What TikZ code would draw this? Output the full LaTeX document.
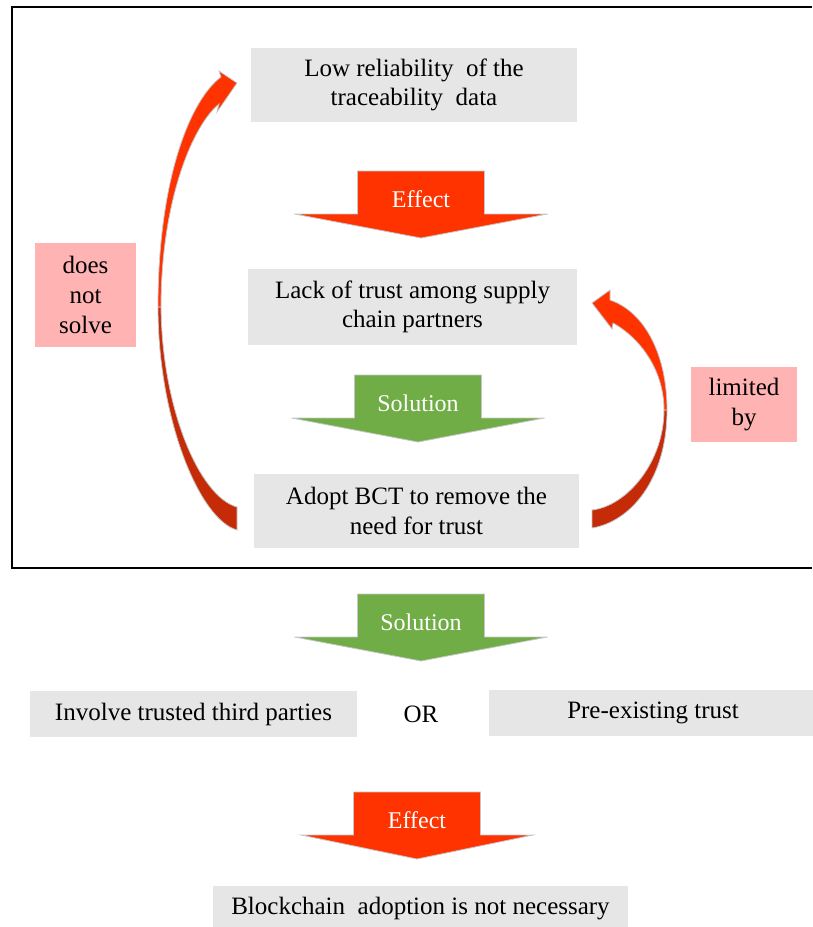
\documentclass[tikz,border=0pt]{standalone}
\usepackage{fontspec}
\setmainfont{Liberation Serif}
\newfontfamily\timesfont{Liberation Serif}

\definecolor{boxgray}{HTML}{E7E6E6}
\definecolor{notepink}{HTML}{FFB3B3}
\definecolor{effectred}{HTML}{FF3300}
\definecolor{solgreen}{HTML}{70AD47}
\definecolor{darkred}{HTML}{C62B08}

% block arrow: centre x, top y, half width of head, colour, text, name
\newcommand{\blockarrow}[6]{%
	\fill[#4, draw=gray!45, line width=0.8pt] (#1-63.5,#2) -- (#1+63.5,#2) -- (#1+63.5,#2+43) -- (#1+#3,#2+43) -- (#1,#2+67) -- (#1-#3,#2+43) -- (#1-63.5,#2+43) -- cycle;
	\node[arrowtext] (#6) at (#1,#2+28) {#5};
}

\begin{document}
\begin{tikzpicture}[x=1pt, y=-1pt,
	every node/.style={font=\timesfont\fontsize{25}{29.5}\selectfont},
	box/.style={fill=boxgray, align=center, inner sep=0pt},
	note/.style={fill=notepink, align=center, inner sep=0pt, font=\timesfont\fontsize{25}{30}\selectfont},
	arrowtext/.style={text=white, font=\timesfont\fontsize{24}{28}\selectfont},
	bendarrow/.style={draw=gray!45, line width=0.8pt}]
	\useasboundingbox (0,0) rectangle (812,927);
	\draw[line width=2.5pt] (812,7) -- (12,7) -- (12,568) -- (812,568);
	% loop inside the frame
	\node[box, minimum width=326pt, minimum height=74pt] (low) at (414,85) {Low reliability\ \ of the\\traceability\ \ data};
	\blockarrow{421}{171}{126.5}{effectred}{Effect}{eff1}
	\node[box, minimum width=329pt, minimum height=76pt] (lack) at (412.5,307) {Lack of trust among supply\\chain partners};
	\blockarrow{418}{375}{126.5}{solgreen}{Solution}{sol1}
	\node[box, minimum width=325pt, minimum height=74pt] (adopt) at (416.5,511) {Adopt BCT to remove the\\need for trust};
	% curved arrow adopt -> low
	\fill[darkred, bendarrow] (237,530) .. controls (200,520) and (158,420) .. (158,307) -- (161,307) .. controls (162,410) and (200,497) .. (237,507) -- cycle;
	\fill[effectred, bendarrow] (158,307) .. controls (158,180) and (190,100) .. (221,77) -- (219,71) -- (237,83) -- (217,112) -- (219,104) .. controls (193,125) and (161,200) .. (161,307) -- cycle;
	\node[note, minimum width=101pt, minimum height=104pt] (dns) at (85.5,295) {does\\not\\solve};
	% curved arrow adopt -> lack
	\fill[darkred, bendarrow] (592,528) .. controls (630,522) and (667,480) .. (667,410) -- (664,410) .. controls (664,462) and (627,506) .. (592,510) -- cycle;
	\fill[effectred, bendarrow] (667,410) .. controls (667,355) and (645,312) .. (610,300) -- (610,290) -- (592,303) -- (612,329) -- (613,323) .. controls (640,338) and (664,370) .. (664,410) -- cycle;
	\node[note, minimum width=106pt, minimum height=75pt] (lim) at (744,404.5) {limited\\by};
	% below the frame
	\blockarrow{421}{594}{126.5}{solgreen}{Solution}{sol2}
	\node[box, minimum width=327pt, minimum height=46pt] (third) at (193.5,714) {Involve trusted third parties};
	\node (or) at (421,714) {OR};
	\node[box, minimum width=328pt, minimum height=46pt] (preex) at (653,713) {Pre-existing trust};
	\blockarrow{417}{792}{116}{effectred}{Effect}{eff2}
	\node[box, minimum width=415pt, minimum height=46pt] (nonec) at (420.5,909) {Blockchain\ \ adoption is not necessary};
\end{tikzpicture}
\end{document}
